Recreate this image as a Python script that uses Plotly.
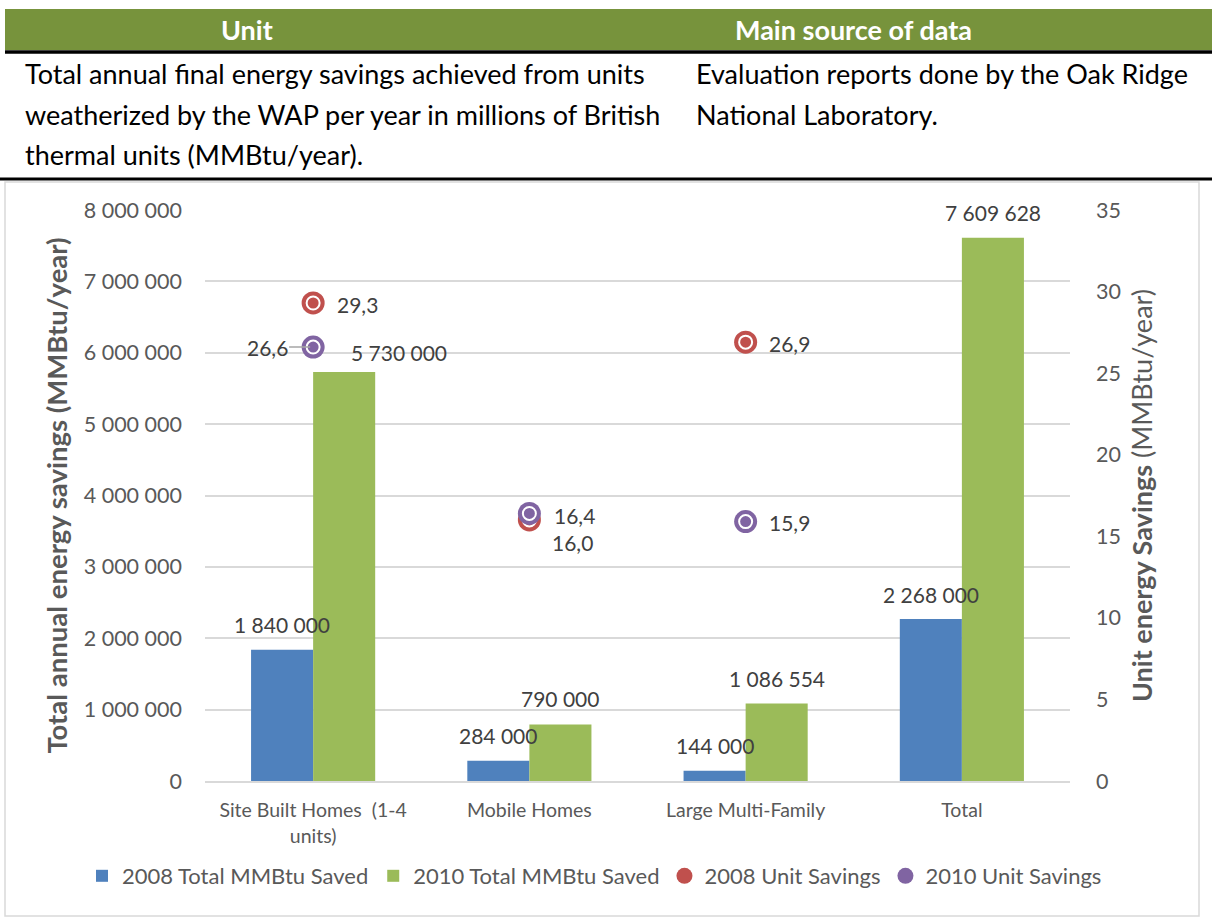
import plotly.graph_objects as go

# ---------------- data ----------------
categories = ["Site Built Homes  (1-4<br>units)", "Mobile Homes", "Large Multi-Family", "Total"]
total_2008 = [1840000, 284000, 144000, 2268000]
total_2010 = [5730000, 790000, 1086554, 7609628]
unit_2008 = [29.3, 16.0, 26.9, None]
unit_2010 = [26.6, 16.4, 15.9, None]
left_ticks = [0, 1000000, 2000000, 3000000, 4000000, 5000000, 6000000, 7000000, 8000000]
right_ticks = [0, 5, 10, 15, 20, 25, 30, 35]

header_left = "Unit"
header_right = "Main source of data"
body_left = ["Total annual final energy savings achieved from units",
             "weatherized by the WAP per year in millions of British",
             "thermal units (MMBtu/year)."]
body_right = ["Evaluation reports done by the Oak Ridge",
              "National Laboratory."]

# ---------------- style ----------------
BLUE = "#4F81BD"
GREEN = "#9BBB59"
RED = "#C0504D"
PURPLE = "#8064A2"
GRID = "#D9D9D9"
TXT = "#595959"
LBL = "#404040"
FONT = "Lato"

W, H = 1212, 917
L, R, T, B = 205, 142, 210, 136
PW, PH = W - L - R, H - T - B


def px(x):
    return (x - L) / PW


def py(y):
    return (H - B - y) / PH


def fmt(v):
    return f"{v:,}".replace(",", " ")


def fmtd(v):
    return f"{v:.1f}".replace(".", ",")


# label offsets (dx, dy in pixels, dy positive = up)
off_2008 = [(0, 25), (0, 25), (0, 25), (0, 25)]
off_2010 = [(55, 20), (0, 26), (0, 25), (0, 25)]
off_u2008 = [(44, -2), (43, -23), (44, -1), None]
off_u2010 = [(-46, 0), (45, -2), (44, -1), None]
half_bar = 31

fig = go.Figure()
fig.add_trace(go.Bar(x=categories, y=total_2008, name="2008 Total MMBtu Saved",
                     marker=dict(color=BLUE, line=dict(width=0))))
fig.add_trace(go.Bar(x=categories, y=total_2010, name="2010 Total MMBtu Saved",
                     marker=dict(color=GREEN, line=dict(width=0))))

for vals, col, name in [(unit_2008, RED, "2008 Unit Savings"), (unit_2010, PURPLE, "2010 Unit Savings")]:
    fig.add_trace(go.Scatter(x=categories, y=vals, yaxis="y2", mode="markers", name=name,
                             marker=dict(size=23, color=col, line=dict(width=0)), legendgroup=name))
    fig.add_trace(go.Scatter(x=categories, y=vals, yaxis="y2", mode="markers", showlegend=False,
                             marker=dict(size=13, color=col, line=dict(width=2, color="white")),
                             legendgroup=name, hoverinfo="skip"))

annotations = []
lab_font = dict(family=FONT, size=21, color=LBL)
for i, c in enumerate(categories):
    dx, dy = off_2008[i]
    annotations.append(dict(x=c, y=total_2008[i], xref="x", yref="y", text=fmt(total_2008[i]),
                            showarrow=False, xshift=-half_bar + dx, yshift=dy, font=lab_font))
    dx, dy = off_2010[i]
    annotations.append(dict(x=c, y=total_2010[i], xref="x", yref="y", text=fmt(total_2010[i]),
                            showarrow=False, xshift=half_bar + dx, yshift=dy, font=lab_font))
    for vals, offs in [(unit_2008, off_u2008), (unit_2010, off_u2010)]:
        if vals[i] is None:
            continue
        dx, dy = offs[i]
        if dx < -40:
            annotations.append(dict(x=c, y=vals[i], xref="x", yref="y2", text=fmtd(vals[i]),
                                    showarrow=True, ax=dx, ay=-dy, arrowhead=0, arrowwidth=1.5,
                                    arrowcolor="#A6A6A6", standoff=3, font=lab_font))
        else:
            annotations.append(dict(x=c, y=vals[i], xref="x", yref="y2", text=fmtd(vals[i]),
                                    showarrow=False, xshift=dx, yshift=dy, font=lab_font))

# header texts
hdr_font = dict(family=FONT, size=27, color="white")
annotations.append(dict(x=px(247), y=py(29), xref="paper", yref="paper", text="<b>%s</b>" % header_left,
                        showarrow=False, font=hdr_font, xanchor="center", yanchor="middle"))
annotations.append(dict(x=px(853), y=py(29), xref="paper", yref="paper", text="<b>%s</b>" % header_right,
                        showarrow=False, font=hdr_font, xanchor="center", yanchor="middle"))
body_font = dict(family=FONT, size=27, color="black")
for k, line in enumerate(body_left):
    annotations.append(dict(x=px(23), y=py(74 + 40.5 * k), xref="paper", yref="paper", text=line,
                            showarrow=False, font=body_font, xanchor="left", yanchor="middle"))
for k, line in enumerate(body_right):
    annotations.append(dict(x=px(694), y=py(74 + 40.5 * k), xref="paper", yref="paper", text=line,
                            showarrow=False, font=body_font, xanchor="left", yanchor="middle"))

shapes = [
    dict(type="rect", xref="paper", yref="paper", x0=px(5), x1=px(1212), y0=py(50), y1=py(9),
         fillcolor="#77933C", line=dict(width=0), layer="below"),
    dict(type="line", xref="paper", yref="paper", x0=px(5), x1=px(1212), y0=py(52), y1=py(52),
         line=dict(color="black", width=3.5)),
    dict(type="line", xref="paper", yref="paper", x0=px(0), x1=px(1212), y0=py(179), y1=py(179),
         line=dict(color="black", width=3)),
    dict(type="rect", xref="paper", yref="paper", x0=px(5), x1=px(1199), y0=py(916), y1=py(182),
         line=dict(color=GRID, width=1.5), layer="below"),
]

fig.update_layout(
    width=W, height=H,
    margin=dict(l=L, r=R, t=T, b=B, pad=0, autoexpand=False),
    paper_bgcolor="white", plot_bgcolor="white",
    separators=", ",
    barmode="group", bargap=0.426, bargroupgap=0,
    font=dict(family=FONT, color=TXT),
    showlegend=True,
    legend=dict(orientation="h", x=px(82), xanchor="left", y=py(876), yanchor="middle",
                bgcolor="rgba(0,0,0,0)",
                font=dict(family=FONT, size=22, color=TXT), itemsizing="trace",
                traceorder="normal", tracegroupgap=0),
    xaxis=dict(showgrid=False, showline=True, linecolor=GRID, linewidth=1.5, ticks="",
               automargin=False,
               tickfont=dict(family=FONT, size=19.5, color=TXT), ticklabelstandoff=11),
    yaxis=dict(range=[0, 8000000], tickvals=left_ticks, tickformat=",d", showgrid=True,
               gridcolor=GRID, gridwidth=1.5, zeroline=False, ticks="", automargin=False,
               tickfont=dict(family=FONT, size=21.5, color=TXT), ticklabelstandoff=22,
               title=dict(text="<b>Total annual energy savings (MMBtu/year)</b>",
                          font=dict(family=FONT, size=27.5, color=TXT), standoff=8)),
    yaxis2=dict(range=[0, 35], tickvals=right_ticks, overlaying="y", side="right", showgrid=False,
                zeroline=False, ticks="", automargin=False,
                tickfont=dict(family=FONT, size=21.5, color=TXT),
                ticklabelstandoff=25,
                title=dict(text="<b>Unit energy Savings</b> (MMBtu/year)",
                           font=dict(family=FONT, size=27, color=TXT), standoff=13)),
    annotations=annotations,
    shapes=shapes,
)

fig.write_html("out.html")
